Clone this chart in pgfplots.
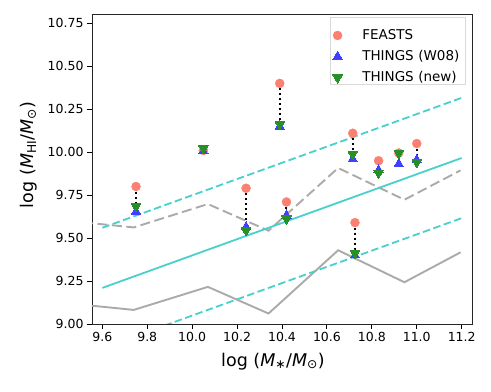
\documentclass[border=0pt]{standalone}
\usepackage{fontspec}
\setmainfont{DejaVu Sans}
\usepackage{pgfplots}
\pgfplotsset{compat=1.18}

\definecolor{feasts}{HTML}{FA8072}
\definecolor{turq}{HTML}{48D1CC}
\definecolor{lgray}{HTML}{AAAAAA}
\definecolor{wblue}{HTML}{3F3FFF}
\definecolor{ngreen}{HTML}{268F26}

\begin{document}
\begin{tikzpicture}
\begin{axis}[
  name=ax,
  scale only axis,
  width=380pt, height=310pt,
  xmin=9.554, xmax=11.246, ymin=9.0, ymax=10.804,
  xtick={9.6,9.8,10.0,10.2,10.4,10.6,10.8,11.0,11.2},
  ytick={9.00,9.25,9.50,9.75,10.00,10.25,10.50,10.75},
  xtick pos=bottom, ytick pos=left,
  tick align=outside,
  major tick length=5pt,
  tick style={black, line width=0.9pt},
  axis line style={line width=0.9pt, black!85},
  /pgf/number format/assume math mode=true,
  x tick label style={/pgf/number format/.cd, fixed, fixed zerofill, precision=1, /tikz/.cd},
  y tick label style={/pgf/number format/.cd, fixed, fixed zerofill, precision=2, /tikz/.cd},
  tick label style={font=\fontsize{12.5}{14}\selectfont},
  label style={font=\fontsize{17.5}{21}\selectfont},
  xlabel style={yshift=-4pt, xshift=-9pt},
  ylabel style={yshift=4pt, xshift=14pt},
  xlabel={log (\textit{M}\textsubscript{∗}/\textit{M}\textsubscript{⊙})},
  ylabel={log (\textit{M}\textsubscript{HI}/\textit{M}\textsubscript{⊙})},
  legend style={at={(0.9816,0.979)}, anchor=north east, yshift=3.5pt,
    draw=black!15, font=\fontsize{13.5}{15}\selectfont,
    row sep=-5.5pt, inner xsep=3pt, inner ysep=-1pt,
    nodes={inner sep=1.5pt, text width=98pt, align=left}},
  legend image code/.code={\path (0,-5pt) (41pt,5pt); \draw[#1] plot coordinates {(18pt,0pt)};},
]
% binned relations (gray) and scaling relation (turquoise)
\addplot[lgray, line width=1.9pt, forget plot] coordinates {
  (9.45,9.120) (9.74,9.082) (10.07,9.216) (10.34,9.061) (10.65,9.429) (10.945,9.243) (11.195,9.417)};
\addplot[lgray, line width=1.9pt, dash pattern=on 10pt off 4.5pt, forget plot] coordinates {
  (9.45,9.600) (9.74,9.562) (10.07,9.698) (10.34,9.543) (10.65,9.908) (10.945,9.723) (11.195,9.894)};
\addplot[turq, line width=1.8pt, forget plot] coordinates {(9.6,9.210) (11.2,9.966)};
\addplot[turq, line width=1.8pt, dash pattern=on 7.5pt off 3.5pt, forget plot] coordinates {(9.6,9.560) (11.2,10.316)};
\addplot[turq, line width=1.8pt, dash pattern=on 7.5pt off 3.5pt, forget plot] coordinates {(9.6,8.860) (11.2,9.616)};

\addplot[only marks, color=feasts, mark=*, mark size=4.5pt, mark options={solid}] coordinates {
  (9.75,9.800) (10.05,10.010) (10.24,9.790) (10.39,10.400) (10.42,9.710)
  (10.715,10.110) (10.725,9.590) (10.83,9.950) (10.92,9.995) (11.0,10.050)};
\addlegendentry{FEASTS}
\addplot[only marks, color=wblue, mark=triangle*, mark size=5.4pt, mark options={solid, line width=0pt}] coordinates {
  (9.75,9.655) (10.05,10.005) (10.24,9.565) (10.39,10.150) (10.42,9.632)
  (10.715,9.960) (10.725,9.400) (10.83,9.895) (10.92,9.932) (11.0,9.955)};
\addlegendentry{THINGS (W08)}
\addplot[only marks, color=ngreen, mark=triangle*, mark size=5.4pt, mark options={solid, line width=0pt, rotate=180}] coordinates {
  (9.75,9.685) (10.05,10.022) (10.24,9.545) (10.39,10.162) (10.42,9.613)
  (10.715,9.988) (10.725,9.414) (10.83,9.879) (10.92,9.995) (11.0,9.942)};
\addlegendentry{THINGS (new)}

% FEASTS vs THINGS offsets
\addplot[black, line width=2pt, dash pattern=on 2pt off 3pt, unbounded coords=jump, forget plot] coordinates {
  (9.75,9.800) (9.75,9.655) (9.75,nan)
  (10.24,9.790) (10.24,9.545) (10.24,nan)
  (10.39,10.400) (10.39,10.150) (10.39,nan)
  (10.42,9.710) (10.42,9.613) (10.42,nan)
  (10.715,10.110) (10.715,9.960) (10.715,nan)
  (10.725,9.590) (10.725,9.400) (10.725,nan)
  (10.83,9.950) (10.83,9.879) (10.83,nan)
  (10.92,9.995) (10.92,9.932) (10.92,nan)
  (11.0,10.050) (11.0,9.942)};
\end{axis}
\pgfresetboundingbox
\useasboundingbox ([xshift=-92pt,yshift=-68pt]ax.south west) rectangle ([xshift=19pt,yshift=14pt]ax.north east);
\end{tikzpicture}
\end{document}
